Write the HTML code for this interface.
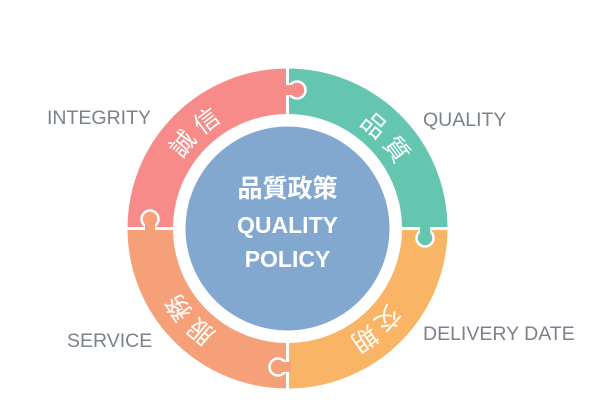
<!DOCTYPE html>
<html><head><meta charset="utf-8"><style>
html,body{margin:0;padding:0;background:#fff;width:604px;height:413px;overflow:hidden}
svg{display:block}
.lab{font-family:"Liberation Sans","Noto Sans CJK TC",sans-serif;font-size:19.5px;fill:#7b828c}
.cj{font-family:"Noto Sans CJK TC",sans-serif;font-size:25px;fill:#fff}
</style></head><body>
<svg width="604" height="413" viewBox="0 0 604 413">
<g stroke="#fff" stroke-width="3">
<path d="M126,228.5 A161.5,161.5 0 0 1 287.5,67 L287.5,115.5 A113,113 0 0 0 174.5,228.5 Z" fill="#F78B89"/>
<path d="M287.5,67 A161.5,161.5 0 0 1 449,228.5 L400.5,228.5 A113,113 0 0 0 287.5,115.5 Z" fill="#64C6B1"/>
<path d="M449,228.5 A161.5,161.5 0 0 1 287.5,390 L287.5,341.5 A113,113 0 0 0 400.5,228.5 Z" fill="#F9B466"/>
<path d="M287.5,390 A161.5,161.5 0 0 1 126,228.5 L174.5,228.5 A113,113 0 0 0 287.5,341.5 Z" fill="#F6A07A"/>
</g>
<!-- puzzle knobs -->
<circle cx="297" cy="90" r="8.5" fill="#F78B89" stroke="#fff" stroke-width="2.5"/>
<rect x="284" y="85" width="8" height="10" fill="#F78B89"/>
<circle cx="150" cy="219" r="8.5" fill="#F6A07A" stroke="#fff" stroke-width="2.5"/>
<rect x="145" y="223" width="10" height="8" fill="#F6A07A"/>
<circle cx="425" cy="238" r="8.5" fill="#64C6B1" stroke="#fff" stroke-width="2.5"/>
<rect x="420" y="226" width="10" height="8" fill="#64C6B1"/>
<circle cx="278" cy="367" r="8.5" fill="#F6A07A" stroke="#fff" stroke-width="2.5"/>
<rect x="283" y="362" width="8" height="10" fill="#F6A07A"/>
<!-- center -->
<circle cx="287.5" cy="228.5" r="102" fill="#82A8D0"/>
<text x="287.5" y="197" text-anchor="middle" font-family="Noto Sans CJK TC,sans-serif" font-size="25" font-weight="bold" fill="#fff">品質政策</text>
<text x="287.5" y="233" text-anchor="middle" font-family="Liberation Sans,sans-serif" font-size="23" font-weight="bold" fill="#fff">QUALITY</text>
<text x="287.5" y="267" text-anchor="middle" font-family="Liberation Sans,sans-serif" font-size="23" font-weight="bold" fill="#fff">POLICY</text>
<g class="cj" text-anchor="middle">
<text transform="translate(287.5,228.5) rotate(-141) translate(135,0) rotate(90)" y="9">誠</text>
<text transform="translate(287.5,228.5) rotate(-127) translate(135,0) rotate(90)" y="9">信</text>
<text transform="translate(287.5,228.5) rotate(-50) translate(135,0) rotate(90)" y="9">品</text>
<text transform="translate(287.5,228.5) rotate(-36) translate(135,0) rotate(90)" y="9">質</text>
<text transform="translate(287.5,228.5) rotate(42) translate(135,0) rotate(90)" y="9">交</text>
<text transform="translate(287.5,228.5) rotate(55) translate(135,0) rotate(90)" y="9">期</text>
<text transform="translate(287.5,228.5) rotate(130) translate(135,0) rotate(90)" y="9">服</text>
<text transform="translate(287.5,228.5) rotate(144) translate(135,0) rotate(90)" y="9">務</text>
</g>
<text class="lab" x="47" y="124">INTEGRITY</text>
<text class="lab" x="423" y="126">QUALITY</text>
<text class="lab" x="67" y="347">SERVICE</text>
<text class="lab" x="423" y="340">DELIVERY DATE</text>
</svg>
</body></html>
